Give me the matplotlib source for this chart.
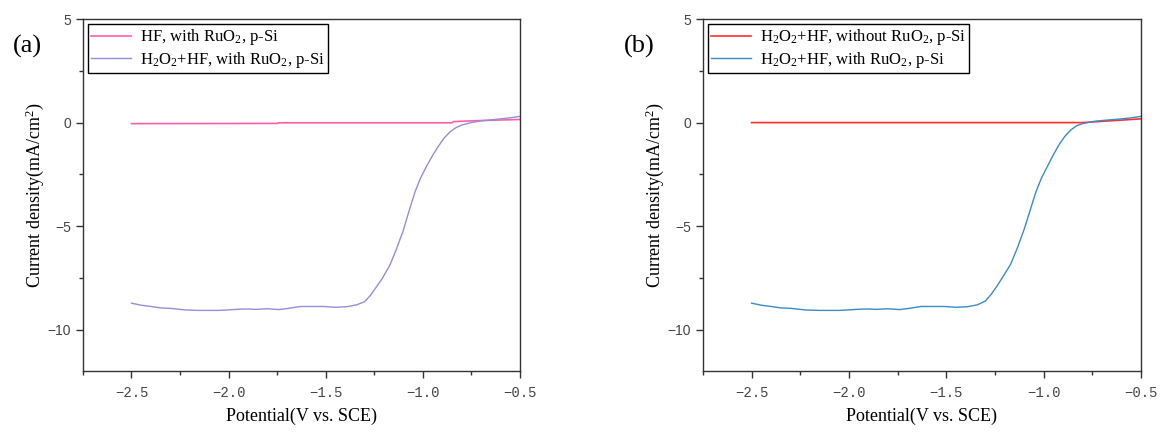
"""
Two-panel LSV comparison (p-Si, RuO2) recreated with matplotlib.
"""
import matplotlib
matplotlib.use('Agg')
import matplotlib.pyplot as plt
from matplotlib.ticker import MultipleLocator

plt.rcParams.update({
    'font.family': 'serif',
    'font.serif': ['Liberation Serif', 'DejaVu Serif'],
    'mathtext.default': 'regular',
    'axes.linewidth': 1.0,
    'axes.edgecolor': '#333333',
})

# ---- data ----
# H2O2 + HF, with RuO2 (same curve in both panels)
pot_with = [-2.50, -2.45, -2.40, -2.35, -2.30, -2.22, -2.15, -2.05, -2.01, -1.96,
            -1.91, -1.86, -1.80, -1.74, -1.69, -1.63, -1.57, -1.51, -1.45, -1.39,
            -1.34, -1.30, -1.27, -1.24, -1.21, -1.17, -1.135, -1.10, -1.07, -1.04,
            -1.01, -0.98, -0.95, -0.92, -0.89, -0.86, -0.83, -0.80, -0.75, -0.70,
            -0.65, -0.60, -0.55, -0.50]
cur_with_a = [-8.72, -8.82, -8.88, -8.95, -8.97, -9.05, -9.07, -9.07, -9.05, -9.02,
              -9.00, -9.02, -8.99, -9.03, -8.97, -8.88, -8.88, -8.88, -8.92, -8.89,
              -8.80, -8.65, -8.35, -7.95, -7.55, -6.90, -6.10, -5.20, -4.25, -3.35,
              -2.65, -2.10, -1.60, -1.15, -0.75, -0.45, -0.25, -0.12, 0.00, 0.08,
              0.13, 0.18, 0.23, 0.30]
cur_with_b = [-8.72, -8.82, -8.88, -8.95, -8.97, -9.05, -9.07, -9.07, -9.05, -9.02,
              -9.00, -9.02, -8.99, -9.03, -8.97, -8.88, -8.88, -8.88, -8.92, -8.89,
              -8.80, -8.62, -8.30, -7.90, -7.45, -6.85, -6.05, -5.15, -4.25, -3.35,
              -2.65, -2.10, -1.55, -1.05, -0.65, -0.35, -0.15, -0.05, 0.05, 0.10,
              0.14, 0.18, 0.23, 0.30]

# HF only, with RuO2
pot_hf = [-2.50, -1.75, -1.74, -0.85, -0.84, -0.70, -0.50]
cur_hf = [-0.05, -0.04, -0.01, -0.01, 0.05, 0.10, 0.15]

# H2O2 + HF, without RuO2
pot_without = [-2.50, -0.80, -0.65, -0.50]
cur_without = [0.00, 0.00, 0.09, 0.18]

LABEL_HF = 'HF, with RuO$_2$, p-Si'
LABEL_WITH = 'H$_2$O$_2$+HF, with RuO$_2$, p-Si'
LABEL_WITHOUT = 'H$_2$O$_2$+HF, without RuO$_2$, p-Si'

COLORS = {
    'pink': '#FF5FA8',
    'purple': '#948FDA',
    'red': '#FF2E2E',
    'blue': '#3B8BC6',
}


def style_axes(ax):
    ax.set_xlim(-2.75, -0.5)
    ax.set_ylim(-12, 5)
    ax.xaxis.set_major_locator(MultipleLocator(0.5))
    ax.xaxis.set_minor_locator(MultipleLocator(0.25))
    ax.yaxis.set_major_locator(MultipleLocator(5))
    ax.yaxis.set_minor_locator(MultipleLocator(2.5))
    ax.tick_params(which='major', direction='out', length=5, width=1.0,
                   colors='#333333', labelcolor='#444444')
    ax.tick_params(which='minor', direction='out', length=3, width=1.0,
                   colors='#333333')
    ax.tick_params(axis='x', which='major', pad=6)
    for lab in ax.get_xticklabels():
        lab.set_fontfamily('Liberation Mono')
        lab.set_fontsize(10)
    for lab in ax.get_yticklabels():
        lab.set_fontfamily('Liberation Sans')
        lab.set_fontsize(10)
    ax.set_xlabel('Potential(V vs. SCE)', fontsize=13, labelpad=5)
    ax.set_ylabel('Current density(mA/cm$^2$)', fontsize=13, labelpad=1)


def add_legend(ax):
    leg = ax.legend(loc='upper left', frameon=True, fancybox=False,
                    edgecolor='black', framealpha=1.0,
                    prop={'family': 'Liberation Serif', 'size': 12},
                    handlelength=2.4, handletextpad=0.5, borderpad=0.2,
                    borderaxespad=0.3, labelspacing=0.15)
    leg.get_frame().set_linewidth(1.0)


fig = plt.figure(figsize=(11.65, 4.33), dpi=100)
ax_a = fig.add_axes([0.0712, 0.143, 0.375, 0.813])
ax_b = fig.add_axes([0.6034, 0.143, 0.376, 0.813])

# (a)
ax_a.plot(pot_hf, cur_hf, color=COLORS['pink'], lw=1.2, label=LABEL_HF)
ax_a.plot(pot_with, cur_with_a, color=COLORS['purple'], lw=1.0, label=LABEL_WITH)
style_axes(ax_a)
add_legend(ax_a)

# (b)
ax_b.plot(pot_without, cur_without, color=COLORS['red'], lw=1.2, label=LABEL_WITHOUT)
ax_b.plot(pot_with, cur_with_b, color=COLORS['blue'], lw=1.0, label=LABEL_WITH)
style_axes(ax_b)
add_legend(ax_b)

fig.text(13 / 1165, 1 - 46 / 433, '(a)', fontsize=19, ha='left', va='center')
fig.text(624 / 1165, 1 - 46 / 433, '(b)', fontsize=19, ha='left', va='center')

fig.savefig('out.png', dpi=100)
